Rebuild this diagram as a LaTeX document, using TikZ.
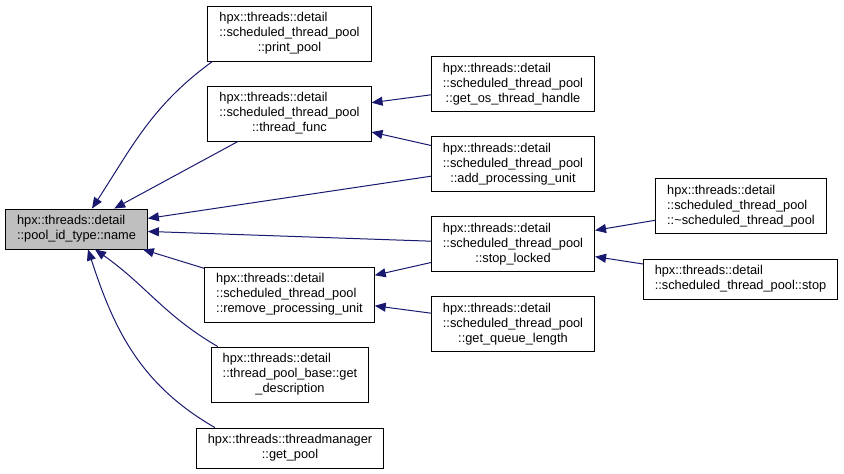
\documentclass[tikz,border=0pt]{standalone}
\usepackage{fontspec}
\setmainfont{Liberation Sans}
\usetikzlibrary{arrows.meta}
\definecolor{edgeblue}{HTML}{191970}
\newcommand{\fnl}[1]{\begin{tabular}{@{}l@{}}#1\end{tabular}}
\newcommand{\lastl}[1]{\multicolumn{1}{@{}c@{}}{#1}}
\tikzset{
fn/.style={draw=black, line width=0.9pt, fill=white, inner xsep=11.5pt, inner ysep=5pt,
  font=\fontsize{12.8}{15}\selectfont},
root/.style={fn, fill=black!25},
call/.style={draw=edgeblue, line width=1pt, {Triangle[length=11pt,width=9pt]}-},
}

\begin{document}
\begin{tikzpicture}[x=1pt,y=-1pt]
\useasboundingbox (0,0) rectangle (844,474);
% callee
\node[root] (name) at (76.5,229) {\fnl{hpx::threads::detail\\\lastl{::pool\_id\_type::name}}};
% direct callers
\node[fn] (printpool) at (289.5,33.5) {\fnl{hpx::threads::detail\\::scheduled\_thread\_pool\\\lastl{::print\_pool}}};
\node[fn] (threadfunc) at (289.5,113.5) {\fnl{hpx::threads::detail\\::scheduled\_thread\_pool\\\lastl{::thread\_func}}};
\node[fn] (removepu) at (289.5,294.5) {\fnl{hpx::threads::detail\\::scheduled\_thread\_pool\\\lastl{::remove\_processing\_unit}}};
\node[fn] (getdesc) at (290,374.5) {\fnl{hpx::threads::detail\\::thread\_pool\_base::get\\\lastl{\_description}}};
\node[fn] (getpool) at (290,448) {\fnl{hpx::threads::threadmanager\\\lastl{::get\_pool}}};
\node[fn] (getos) at (513,84) {\fnl{hpx::threads::detail\\::scheduled\_thread\_pool\\\lastl{::get\_os\_thread\_handle}}};
\node[fn] (addpu) at (513,164) {\fnl{hpx::threads::detail\\::scheduled\_thread\_pool\\\lastl{::add\_processing\_unit}}};
\node[fn] (stoplocked) at (513,244) {\fnl{hpx::threads::detail\\::scheduled\_thread\_pool\\\lastl{::stop\_locked}}};
\node[fn] (queuelen) at (513,324) {\fnl{hpx::threads::detail\\::scheduled\_thread\_pool\\\lastl{::get\_queue\_length}}};
\node[fn] (dtor) at (741,206) {\fnl{hpx::threads::detail\\::scheduled\_thread\_pool\\\lastl{::\textasciitilde scheduled\_thread\_pool}}};
\node[fn] (stop) at (740.5,279) {\fnl{hpx::threads::detail\\\lastl{::scheduled\_thread\_pool::stop}}};

% edges into name
\draw[call] ([xshift=15.5pt]name.north) to[out=57,in=216] ([xshift=5pt]printpool.south west);
\draw[call] (name) -- (threadfunc);
\draw[call] (name) -- (addpu);
\draw[call] (name) -- (stoplocked);
\draw[call] (name) -- (removepu);
\draw[call] ([xshift=18.5pt]name.south) to[out=-35,in=150] ([xshift=7pt]getdesc.north west);
\draw[call] ([xshift=11.5pt]name.south) to[out=-72,in=150] ([xshift=19pt]getpool.north west);
% second level
\draw[call] (threadfunc) -- (getos);
\draw[call] (threadfunc) -- (addpu);
\draw[call] (removepu) -- (stoplocked);
\draw[call] (removepu) -- (queuelen);
\draw[call] (stoplocked) -- (dtor);
\draw[call] (stoplocked) -- (stop);
\end{tikzpicture}
\end{document}
